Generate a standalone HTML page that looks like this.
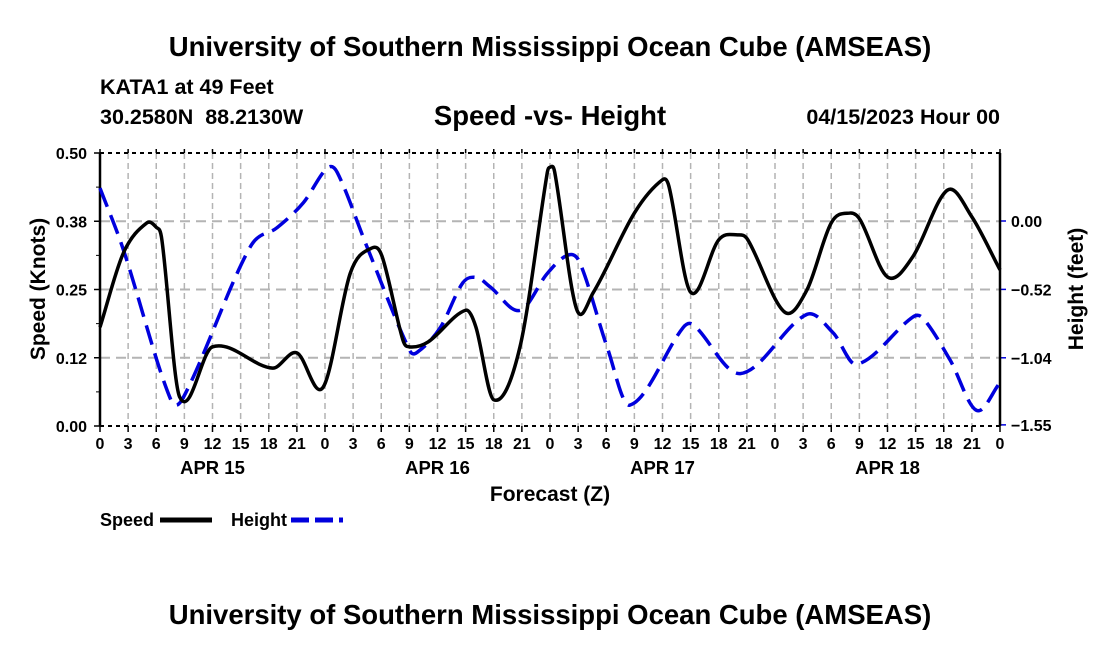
<!DOCTYPE html>
<html><head><meta charset="utf-8"><style>
html,body{margin:0;padding:0;background:#fff;width:1100px;height:650px;overflow:hidden}
svg text{font-family:"Liberation Sans",sans-serif;font-weight:bold;fill:#000}
</style></head><body>
<svg id="chart" width="1100" height="650" xmlns="http://www.w3.org/2000/svg">
<text x="550" y="56" font-size="27.5" text-anchor="middle">University of Southern Mississippi Ocean Cube (AMSEAS)</text>
<text x="100" y="94" font-size="21.5">KATA1 at 49 Feet</text>
<text x="100" y="124" font-size="21.5" xml:space="preserve">30.2580N  88.2130W</text>
<text x="550" y="125" font-size="27.5" text-anchor="middle">Speed -vs- Height</text>
<text x="1000" y="124" font-size="21.5" text-anchor="end">04/15/2023 Hour 00</text>
<g id="grid"></g>
<g id="axes"></g>
<g id="series"></g>
<text transform="translate(45,289) rotate(-90)" font-size="21" text-anchor="middle">Speed (Knots)</text>
<text transform="translate(1083,289) rotate(-90)" font-size="21" text-anchor="middle">Height (feet)</text>
<text x="550" y="501" font-size="21" text-anchor="middle">Forecast (Z)</text>
<g>
<text x="100" y="526" font-size="18">Speed</text>
<line x1="160" y1="520" x2="212" y2="520" stroke="#000" stroke-width="5"/>
<text x="231" y="526" font-size="18">Height</text>
<line x1="291" y1="520" x2="343" y2="520" stroke="#0000dd" stroke-width="5" stroke-dasharray="18,6"/>
</g>
<text x="550" y="624" font-size="27.5" text-anchor="middle">University of Southern Mississippi Ocean Cube (AMSEAS)</text>
</svg>
<script>
const speedHours=[0,2.5,5,6,6.6,8.5,12,18.4,21,23.8,26.7,29,30.1,32.3,33,35,39,40.1,42,44.8,47.7,48,48.5,50.8,52.6,57,60,60.7,63,66,68,69.1,73,75.4,78,80,81.1,84,86.7,90.4,93,96];
const speedValues=[0.181,0.317,0.372,0.364,0.341,0.053,0.145,0.106,0.134,0.071,0.280,0.326,0.310,0.158,0.145,0.154,0.212,0.181,0.048,0.145,0.463,0.474,0.465,0.216,0.244,0.390,0.451,0.438,0.245,0.341,0.350,0.341,0.209,0.249,0.372,0.390,0.377,0.273,0.310,0.432,0.383,0.286];
const heightHours=[0,2.5,7.5,8.9,16,18.9,21.7,24.2,25.3,28.5,33,33.8,36.3,38.7,40.2,41.6,44.8,47.7,49.9,51.2,54.1,56.5,62.2,63.3,68.3,75.4,78.2,80.7,86.7,87.8,90.7,93.5,96];
const heightValues=[0.25,-0.22,-1.35,-1.34,-0.20,-0.05,0.14,0.40,0.37,-0.20,-0.98,-1.00,-0.81,-0.47,-0.43,-0.50,-0.68,-0.40,-0.26,-0.32,-0.96,-1.40,-0.81,-0.79,-1.16,-0.71,-0.85,-1.09,-0.73,-0.74,-1.06,-1.44,-1.23];
const leftTicks=[0,0.125,0.25,0.375,0.5];
const leftTickLabels=["0.00","0.12","0.25","0.38","0.50"];
const rightTicks=[0,-0.52,-1.04,-1.55];
const rightTickLabels=["0.00","\u22120.52","\u22121.04","\u22121.55"];
const hourLabels=["0","3","6","9","12","15","18","21"];
const dayLabels=["APR 15","APR 16","APR 17","APR 18"];

const X0=100,X1=1000,Y0=426,Y1=153;
const xS=h=>X0+h/96*(X1-X0);
const yS=v=>Y0-v/0.5*(Y0-Y1);
const yH=v=>221-v/0.517*68;
const NS="http://www.w3.org/2000/svg";
function mk(tag,attrs,parent){const e=document.createElementNS(NS,tag);for(const k in attrs)e.setAttribute(k,attrs[k]);parent.appendChild(e);return e;}
const grid=document.getElementById('grid'),axes=document.getElementById('axes'),series=document.getElementById('series');

for(let h=3;h<96;h+=3){
  const l=mk('line',{x1:xS(h),x2:xS(h),y1:Y1,y2:Y0,stroke:'#b4b4b4','stroke-width':1.5,'stroke-dasharray':'6,4'},grid);
  
  
}
leftTicks.forEach((v,i)=>{
  const y=yS(v);
  if(i>0&&i<leftTicks.length-1){
    const g=mk('line',{x1:X0,x2:X1,y1:y,y2:y,stroke:'#b4b4b4','stroke-width':2,'stroke-dasharray':'10,6'},grid);
    
    
  }
  mk('line',{x1:X0-6,x2:X0,y1:y,y2:y,stroke:'#000','stroke-width':1.5},axes);
  const t=mk('text',{x:X0-13,y:y+6,'font-size':16,'text-anchor':'end'},axes);
  t.textContent=leftTickLabels[i];
  
  
  if(i<leftTicks.length-1){const m=yS(v+0.0625);mk('line',{x1:X0-4,x2:X0,y1:m,y2:m,stroke:'#000','stroke-width':1},axes);}
});
rightTicks.forEach((v,i)=>{
  const y=yH(v);
  mk('line',{x1:X1,x2:X1+6,y1:y,y2:y,stroke:'#0000dd','stroke-width':1.5},axes);
  const t=mk('text',{x:X1+11,y:y+6,'font-size':16},axes);
  t.textContent=rightTickLabels[i];
  
  
});
mk('line',{x1:X0,x2:X0,y1:Y1,y2:Y0,stroke:'#000','stroke-width':2.5},axes);
mk('line',{x1:X1,x2:X1,y1:Y1,y2:Y0,stroke:'#000','stroke-width':2.5},axes);
mk('line',{x1:X0,x2:X1,y1:Y1,y2:Y1,stroke:'#000','stroke-width':2,'stroke-dasharray':'4,4'},axes);
mk('line',{x1:X0,x2:X1,y1:Y0,y2:Y0,stroke:'#000','stroke-width':2,'stroke-dasharray':'4,4'},axes);
for(let h=0;h<=96;h+=3){
  const x=xS(h);
  mk('line',{x1:x,x2:x,y1:Y0,y2:Y0+6,stroke:'#000','stroke-width':1.5},axes);
  mk('line',{x1:x,x2:x,y1:Y1-4,y2:Y1,stroke:'#000','stroke-width':1.5},axes);
  const t=mk('text',{x:x,y:Y0+23,'font-size':16,'text-anchor':'middle'},axes);
  t.textContent=hourLabels[(h/3)%8];
  
  
}
dayLabels.forEach((d,i)=>{
  const t=mk('text',{x:xS(i*24+12),y:Y0+48,'font-size':18.5,'text-anchor':'middle'},axes);
  t.textContent=d;
  
  
});
function smooth(pts){
  const n=pts.length,m=[];
  for(let i=0;i<n;i++){
    const a=pts[Math.max(0,i-1)],b=pts[Math.min(n-1,i+1)];
    m.push((b[1]-a[1])/(b[0]-a[0]));
  }
  let d=`M${pts[0][0]},${pts[0][1]}`;
  for(let i=0;i<n-1;i++){
    const p1=pts[i],p2=pts[i+1],dx=(p2[0]-p1[0])/3;
    d+=` C${p1[0]+dx},${p1[1]+m[i]*dx} ${p2[0]-dx},${p2[1]-m[i+1]*dx} ${p2[0]},${p2[1]}`;
  }
  return d;
}
const hp=mk('path',{d:smooth(heightHours.map((h,i)=>[xS(h),yH(heightValues[i])])),fill:'none',stroke:'#0000dd','stroke-width':3.5,'stroke-dasharray':'20,9'},series);


const sp=mk('path',{d:smooth(speedHours.map((h,i)=>[xS(h),yS(speedValues[i])])),fill:'none',stroke:'#000','stroke-width':3.5,'stroke-linejoin':'round'},series);


</script>
</body></html>
